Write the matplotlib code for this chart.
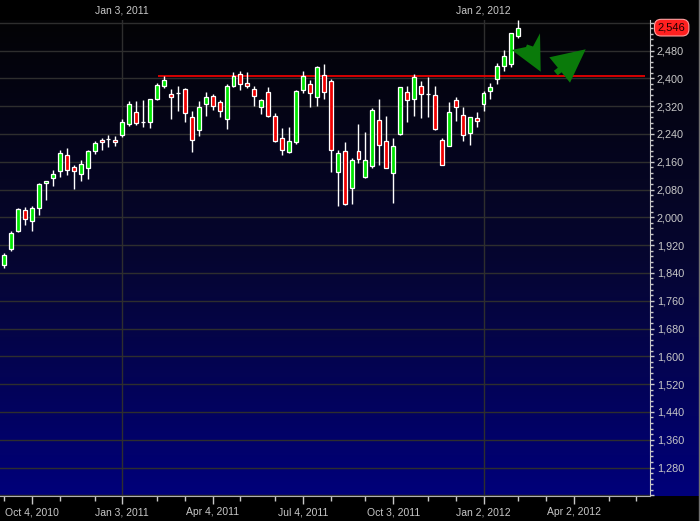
import datetime as dt
import numpy as np
import matplotlib
matplotlib.use('Agg')
import matplotlib.pyplot as plt
import matplotlib.dates as mdates
import matplotlib.transforms as mtransforms
from matplotlib.colors import LinearSegmentedColormap
from matplotlib.ticker import MultipleLocator, FixedLocator, FuncFormatter
from matplotlib.patches import Polygon

plt.rcParams['font.family'] = ['Liberation Sans', 'DejaVu Sans']

# weekly candles, first week starts Mon Sep 6, 2010
first_week = dt.date(2010, 9, 6)
opens = [1862, 1908, 1960, 2021, 1989, 2026, 2098, 2113, 2134, 2180,
         2145, 2125, 2141, 2191, 2224, 2225, 2224, 2237, 2270, 2302,
         2273, 2275, 2342, 2379, 2355, 2359, 2368, 2288, 2252, 2325,
         2349, 2331, 2282, 2379, 2412, 2386, 2368, 2319, 2360, 2291,
         2227, 2187, 2218, 2366, 2383, 2347, 2410, 2391, 2130, 2190,
         2085, 2191, 2117, 2147, 2279, 2219, 2128, 2241, 2360, 2341,
         2378, 2356, 2351, 2222, 2206, 2337, 2296, 2243, 2285, 2325,
         2363, 2397, 2437, 2440, 2521]
highs = [1898, 1962, 2026, 2031, 2033, 2099, 2106, 2136, 2195, 2201,
         2152, 2166, 2193, 2221, 2227, 2238, 2235, 2283, 2335, 2335,
         2337, 2340, 2386, 2407, 2368, 2378, 2372, 2306, 2335, 2360,
         2354, 2338, 2384, 2417, 2420, 2417, 2378, 2342, 2374, 2299,
         2257, 2259, 2367, 2421, 2395, 2435, 2441, 2398, 2195, 2216,
         2170, 2269, 2246, 2314, 2340, 2292, 2228, 2375, 2378, 2414,
         2392, 2405, 2378, 2228, 2332, 2346, 2317, 2290, 2303, 2364,
         2386, 2445, 2481, 2531, 2568]
lows = [1854, 1904, 1958, 1977, 1962, 2006, 2051, 2091, 2115, 2122,
        2083, 2104, 2109, 2181, 2194, 2203, 2206, 2232, 2264, 2266,
        2261, 2258, 2337, 2371, 2283, 2307, 2275, 2189, 2235, 2293,
        2309, 2290, 2255, 2374, 2366, 2373, 2321, 2297, 2290, 2217,
        2179, 2185, 2212, 2359, 2318, 2321, 2342, 2131, 2033, 2036,
        2039, 2157, 2114, 2141, 2151, 2141, 2042, 2238, 2275, 2293,
        2286, 2290, 2251, 2151, 2206, 2278, 2219, 2208, 2261, 2306,
        2342, 2385, 2422, 2433, 2516]
closes = [1893, 1955, 2024, 1994, 2028, 2097, 2105, 2126, 2185, 2136,
          2132, 2154, 2191, 2215, 2216, 2225, 2216, 2275, 2326, 2271,
          2273, 2340, 2381, 2395, 2347, 2359, 2299, 2222, 2317, 2345,
          2321, 2307, 2378, 2407, 2383, 2379, 2350, 2337, 2292, 2221,
          2193, 2219, 2363, 2406, 2357, 2432, 2361, 2195, 2184, 2039,
          2164, 2169, 2165, 2309, 2207, 2141, 2204, 2374, 2337, 2403,
          2356, 2356, 2255, 2151, 2302, 2318, 2238, 2289, 2278, 2357,
          2374, 2437, 2463, 2530, 2546]
last_price = 2546
resistance = 2408
resistance_span = (dt.date(2011, 2, 8), dt.date(2012, 6, 13))
top_labels = [dt.date(2011, 1, 3), dt.date(2012, 1, 2)]

weeks = [first_week + dt.timedelta(weeks=i) for i in range(len(opens))]
xw = mdates.date2num(weeks)

W, H = 700, 521
fig = plt.figure(figsize=(W / 100, H / 100), dpi=100, facecolor='black')
b, t = 25 / H, 1 - 20 / H

# gradient backdrop (black -> navy)
bg = fig.add_axes([0, b, 1, t - b], zorder=0)
cmap = LinearSegmentedColormap.from_list('bg', ['#030305', '#060630', '#00007a'])
bg.imshow(np.linspace(0, 1, 256).reshape(-1, 1), aspect='auto', cmap=cmap,
          extent=[0, 1, 0, 1])
bg.axis('off')

ax = fig.add_axes([0, b, 650 / W, t - b], zorder=1)
ax.set_facecolor('none')

px_day = 6.945 / 7
x0 = xw[0] - 4.3 / px_day
ax.set_xlim(x0, x0 + 650 / px_day)
ax.set_ylim(1198, 2568)

# grid
for v in range(1200, 2561, 80):
    ax.axhline(v, color='#2e2e2e', lw=1, zorder=1)
for d in top_labels:
    ax.axvline(mdates.date2num(d), color='#2e2e2e', lw=1, zorder=1)

# resistance line
ax.hlines(resistance, mdates.date2num(resistance_span[0]),
          mdates.date2num(resistance_span[1]), color='#e80000', lw=1.3, zorder=2)

# candles
ax.vlines(xw, lows, highs, color='white', lw=1, zorder=3)
cols = ['#00e600' if c > o else ('white' if c == o else '#f00000')
        for o, c in zip(opens, closes)]
bottoms = [min(o, c) for o, c in zip(opens, closes)]
heights = [abs(c - o) for o, c in zip(opens, closes)]
ax.bar(xw, heights, bottom=bottoms, width=4.0, color=cols,
       edgecolor='white', linewidth=0.9, zorder=4)

# x axis: monthly ticks at first Monday, labels each quarter
months = []
y, m = 2010, 9
while (y, m) <= (2012, 6):
    d = dt.date(y, m, 1)
    while d.weekday() != 0:
        d += dt.timedelta(days=1)
    months.append(d)
    m += 1
    if m > 12:
        y, m = y + 1, 1
major = [d for d in months if d.month in (1, 4, 7, 10)]
minor = [d for d in months if d.month not in (1, 4, 7, 10)]
ax.xaxis.set_major_locator(FixedLocator(mdates.date2num(major)))
ax.xaxis.set_minor_locator(FixedLocator(mdates.date2num(minor)))
ax.set_xticklabels([f'{d:%b} {d.day}, {d.year}' for d in major])
ax.tick_params(axis='x', which='major', length=6, width=1, colors='#c8c8c8',
               labelsize=7.5, pad=2)
ax.tick_params(axis='x', which='minor', length=3.5, width=1, colors='#c8c8c8')

# y axis on the right
ax.yaxis.tick_right()
ax.yaxis.set_major_locator(MultipleLocator(80))
ax.yaxis.set_minor_locator(MultipleLocator(16))
ax.yaxis.set_major_formatter(FuncFormatter(
    lambda v, p: f'{int(v):,}' if 1280 <= v <= 2480 else ''))
ax.tick_params(axis='y', which='major', length=3, width=1, colors='#c8c8c8',
               labelsize=7.8, pad=2)
ax.tick_params(axis='y', which='minor', length=1.8, width=1, colors='#c8c8c8')

for s in ('top', 'left'):
    ax.spines[s].set_visible(False)
ax.spines['right'].set_color('#c8c8c8')
ax.spines['bottom'].set_color('#b0b0b0')

# dates in the top band
top = ax.secondary_xaxis('top')
top.set_xticks(mdates.date2num(top_labels))
top.set_xticklabels([f'{d:%b} {d.day}, {d.year}' for d in top_labels])
top.tick_params(length=0, colors='#c8c8c8', labelsize=7.5, pad=3)
top.spines['top'].set_visible(False)

# last price tag
tr = mtransforms.blended_transform_factory(ax.transAxes, ax.transData)
ax.text(1.012, last_price, f'{last_price:,}', transform=tr, ha='left',
        va='center', fontsize=8, color='#200000', zorder=6,
        bbox=dict(boxstyle='round,pad=0.3,rounding_size=0.6', fc='#ff2020',
                  ec='#ffa0a0', lw=0.8))


# hand drawn arrows (pixel positions of the annotation)
def fig_pts(pts):
    return [(px / W, 1 - py / H) for px, py in pts]


arrow1 = [(511.7, 50), (526, 47), (527, 44.5), (533, 46.5), (540, 33.3),
          (540.7, 71.7)]
arrow2 = [(585.7, 49.3), (549.3, 57.3), (557.8, 67.7), (553.9, 70.8),
          (557.7, 75.4), (561.6, 72.3), (570, 82.7)]
for pts in (arrow1, arrow2):
    fig.patches.append(Polygon(fig_pts(pts), closed=True, fc='#0a7a0a',
                               ec='none', transform=fig.transFigure, zorder=5))

# right border
fig.add_artist(plt.Line2D([698.5 / W, 698.5 / W], [0, 1], color='#707070', lw=1))

fig.savefig('out.png', dpi=100, facecolor='black')
